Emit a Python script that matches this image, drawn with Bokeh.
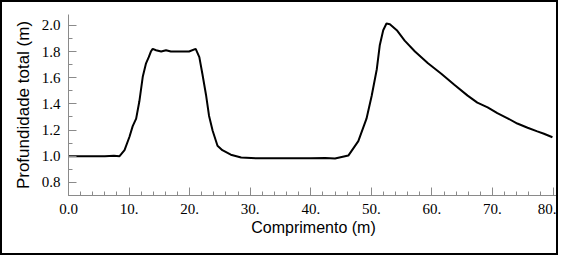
from bokeh.plotting import figure
from bokeh.models import FixedTicker, Range1d
from bokeh.embed import file_html
from bokeh.resources import INLINE

# data
comprimento = [0, 2, 4, 6, 7.5, 8.43, 9.25, 10.07, 10.6, 11.17, 11.7, 12.27, 12.8,
               13.25, 13.6, 13.9, 14.46, 15.3, 16.1, 16.9, 17.7, 18.8, 19.9, 21.0,
               21.6, 22.1, 22.7, 23.2, 23.8, 24.6, 25.4, 26.8, 28.5, 31, 35, 40,
               42.4, 44.0, 46.2, 47.85, 49.2, 50.05, 50.9, 51.4, 51.96, 52.5, 53.06,
               54.2, 55.5, 57.2, 59.35, 61.55, 63.7, 65.9, 67.5, 69.2, 70.8, 72.5,
               74.1, 75.8, 77.4, 78.5, 79.9]
profundidade = [1.0, 1.0, 1.0, 1.0, 1.003, 1.0, 1.046, 1.149, 1.23, 1.287, 1.42, 1.61,
                1.71, 1.757, 1.80, 1.82, 1.81, 1.80, 1.81, 1.80, 1.80, 1.80, 1.80,
                1.82, 1.757, 1.63, 1.47, 1.31, 1.195, 1.08, 1.046, 1.012, 0.99,
                0.984, 0.984, 0.985, 0.986, 0.982, 1.005, 1.115, 1.287, 1.46, 1.665,
                1.85, 1.963, 2.014, 2.009, 1.963, 1.883, 1.80, 1.71, 1.63, 1.546,
                1.463, 1.41, 1.374, 1.33, 1.29, 1.25, 1.218, 1.19, 1.172, 1.145]

x_ticks = [0, 10, 20, 30, 40, 50, 60, 70, 80]
x_tick_labels = ["0.0", "10.", "20.", "30.", "40.", "50.", "60.", "70.", "80."]
x_minor = [v for v in range(0, 82, 2)]
y_ticks = [0.8, 1.0, 1.2, 1.4, 1.6, 1.8, 2.0]
y_tick_labels = ["0.8", "1.0", "1.2", "1.4", "1.6", "1.8", "2.0"]
y_minor = [0.7, 0.8, 0.9, 1.0, 1.1, 1.2, 1.3, 1.4, 1.5, 1.6, 1.7, 1.8, 1.9, 2.0]

W, H = 558, 255
p = figure(width=W, height=H, output_backend="svg", toolbar_location=None,
           x_range=Range1d(0, 80.9), y_range=Range1d(0.7, 2.083),
           min_border_left=66, min_border_right=2, min_border_top=12, min_border_bottom=62)
# black frame around the whole picture
p.styles = {"border": "2px solid black"}
p.outline_line_color = None
p.xgrid.visible = False
p.ygrid.visible = False

p.line(comprimento, profundidade, line_color="black", line_width=2)

gray = "#8a8a8a"
for ax in (p.xaxis[0], p.yaxis[0]):
    ax.axis_line_color = gray
    ax.major_tick_line_color = gray
    ax.minor_tick_line_color = gray
    ax.major_tick_in = 8
    ax.major_tick_out = 0
    ax.minor_tick_in = 4
    ax.minor_tick_out = 0
    ax.major_label_text_font = "Liberation Serif"
    ax.major_label_text_font_size = "15px"
    ax.major_label_text_color = "black"
    ax.axis_label_text_font = "Liberation Sans"
    ax.axis_label_text_font_style = "normal"
    ax.axis_label_text_color = "black"

p.xaxis.ticker = FixedTicker(ticks=x_ticks, minor_ticks=x_minor)
p.xaxis.major_label_overrides = dict(zip(x_ticks, x_tick_labels))
p.xaxis.axis_label = "Comprimento (m)"
p.xaxis.axis_label_text_font_size = "16px"
p.xaxis.major_label_standoff = 8
p.xaxis.axis_label_standoff = 2

p.yaxis.ticker = FixedTicker(ticks=y_ticks, minor_ticks=y_minor)
p.yaxis.major_label_overrides = dict(zip(y_ticks, y_tick_labels))
p.yaxis.axis_label = "Profundidade total (m)"
p.yaxis.axis_label_text_font_size = "17px"
p.yaxis.major_label_standoff = 8
p.yaxis.axis_label_standoff = 6

open("out.html", "w").write(file_html(p, INLINE))
